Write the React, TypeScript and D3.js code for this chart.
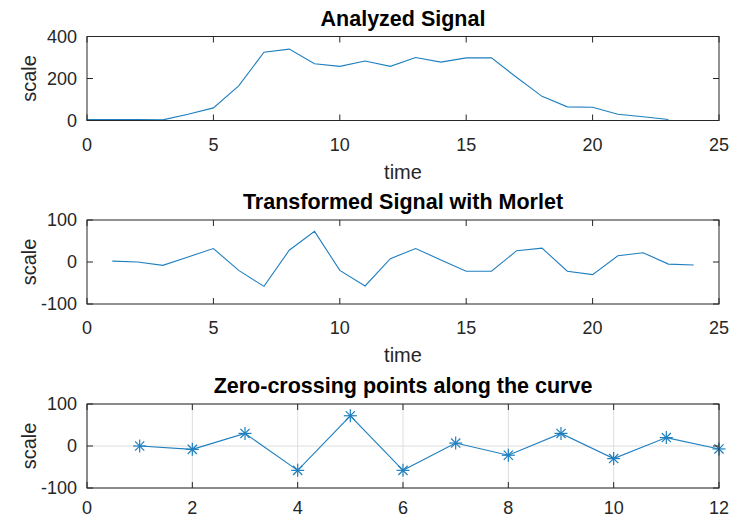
import React from "react";
import * as d3 from "d3";

// ---------- data ----------
const signalTime = [0,1,2,3,4,5,6,7,8,9,10,11,12,13,14,15,16,17,18,19,20,21,22,23];
const signalValues = [4,5,5,3,30,60,165,325,340,270,258,283,258,300,278,298,298,205,115,65,63,30,18,5];

const morletTime = [1,2,3,4,5,6,7,8,9,10,11,12,13,14,15,16,17,18,19,20,21,22,23,24];
const morletValues = [2,0,-8,12,32,-20,-58,28,73,-20,-57,8,32,5,-22,-22,27,33,-22,-30,15,22,-5,-7];

const zeroIndex = [1,2,3,4,5,6,7,8,9,10,11,12];
const zeroValues = [0,-8,30,-58,72,-58,7,-22,30,-30,20,-7];

const titles = ["Analyzed Signal", "Transformed Signal with Morlet", "Zero-crossing points along the curve"];
const xTicks1 = [0,5,10,15,20,25];
const xTicks3 = [0,2,4,6,8,10,12];
const yTicks1 = [0,200,400];
const yTicks2 = [-100,0,100];

// ---------- layout ----------
const W = 731, H = 520;
const L = 87, R = 719;
const PH = 84;
const tops = [36.5, 220, 404];
const AX = "#262626";
const LINE = "#1f7fbf";
const FONT = "'Liberation Sans', Arial, Helvetica, sans-serif";

type PanelProps = {
  top: number; title: string; xs: number[]; ys: number[];
  xDomain: [number, number]; yDomain: [number, number];
  xTicks: number[]; yTicks: number[]; xLabel?: string; grid?: boolean; markers?: boolean;
  tickOffset?: number;
};

function Panel({ top, title, xs, ys, xDomain, yDomain, xTicks, yTicks, xLabel, grid, markers, tickOffset = 30 }: PanelProps) {
  const x = d3.scaleLinear().domain(xDomain).range([L, R]);
  const y = d3.scaleLinear().domain(yDomain).range([top + PH, top]);
  const pts: [number, number][] = xs.map((v, i) => [v, ys[i]]);
  const line = d3.line<[number, number]>().x(d => x(d[0])).y(d => y(d[1]));
  const tl = 6;
  const cx = (L + R) / 2;
  return (
    <g>
      {grid && xTicks.map(t => (
        <line key={"gx" + t} x1={x(t)} x2={x(t)} y1={top} y2={top + PH} stroke="#dedede" strokeWidth={1} />
      ))}
      {grid && yTicks.map(t => (
        <line key={"gy" + t} x1={L} x2={R} y1={y(t)} y2={y(t)} stroke="#dedede" strokeWidth={1} />
      ))}
      <path d={line(pts) || ""} fill="none" stroke={LINE} strokeWidth={1.1} />
      {markers && pts.map((p, i) => {
        const px = x(p[0]), py = y(p[1]);
        const s = 6.5, d = 4.6;
        return (
          <g key={"m" + i} stroke={LINE} strokeWidth={1.2}>
            <line x1={px - s} x2={px + s} y1={py} y2={py} />
            <line x1={px} x2={px} y1={py - s} y2={py + s} />
            <line x1={px - d} x2={px + d} y1={py - d} y2={py + d} />
            <line x1={px - d} x2={px + d} y1={py + d} y2={py - d} />
          </g>
        );
      })}
      <rect x={L} y={top} width={R - L} height={PH} fill="none" stroke={AX} strokeWidth={1} />
      {xTicks.map(t => (
        <g key={"xt" + t}>
          <line x1={x(t)} x2={x(t)} y1={top + PH} y2={top + PH - tl} stroke={AX} />
          <line x1={x(t)} x2={x(t)} y1={top} y2={top + tl} stroke={AX} />
          <text x={x(t)} y={top + PH + tickOffset} textAnchor="middle" fontSize={18} fill={AX} fontFamily={FONT}>{t}</text>
        </g>
      ))}
      {yTicks.map(t => (
        <g key={"yt" + t}>
          <line x1={L} x2={L + tl} y1={y(t)} y2={y(t)} stroke={AX} />
          <line x1={R} x2={R - tl} y1={y(t)} y2={y(t)} stroke={AX} />
          <text x={L - 10} y={y(t)} dy="0.36em" textAnchor="end" fontSize={18} fill={AX} fontFamily={FONT}>{t}</text>
        </g>
      ))}
      <text x={cx} y={top - 11} textAnchor="middle" fontSize={21.5} fontWeight="bold" fill="#000" fontFamily={FONT}>{title}</text>
      <text transform={`translate(${36},${top + PH / 2}) rotate(-90)`} textAnchor="middle" fontSize={20} fill={AX} fontFamily={FONT}>scale</text>
      {xLabel && (
        <text x={cx} y={top + PH + 58} textAnchor="middle" fontSize={20} fill={AX} fontFamily={FONT}>{xLabel}</text>
      )}
    </g>
  );
}

export default function App() {
  return (
    <svg width={W} height={H} style={{ position: "absolute", left: 0, top: 0, background: "#fff" }}>
      <rect x={0} y={0} width={W} height={H} fill="#fff" />
      <Panel top={tops[0]} title={titles[0]} xs={signalTime} ys={signalValues} xDomain={[0, 25]} yDomain={[0, 400]}
        xTicks={xTicks1} yTicks={yTicks1} xLabel="time" />
      <Panel top={tops[1]} title={titles[1]} xs={morletTime} ys={morletValues} xDomain={[0, 25]} yDomain={[-100, 100]}
        xTicks={xTicks1} yTicks={yTicks2} xLabel="time" />
      <Panel top={tops[2]} title={titles[2]} xs={zeroIndex} ys={zeroValues} xDomain={[0, 12]} yDomain={[-100, 100]}
        xTicks={xTicks3} yTicks={yTicks2} grid markers tickOffset={26} />
    </svg>
  );
}
